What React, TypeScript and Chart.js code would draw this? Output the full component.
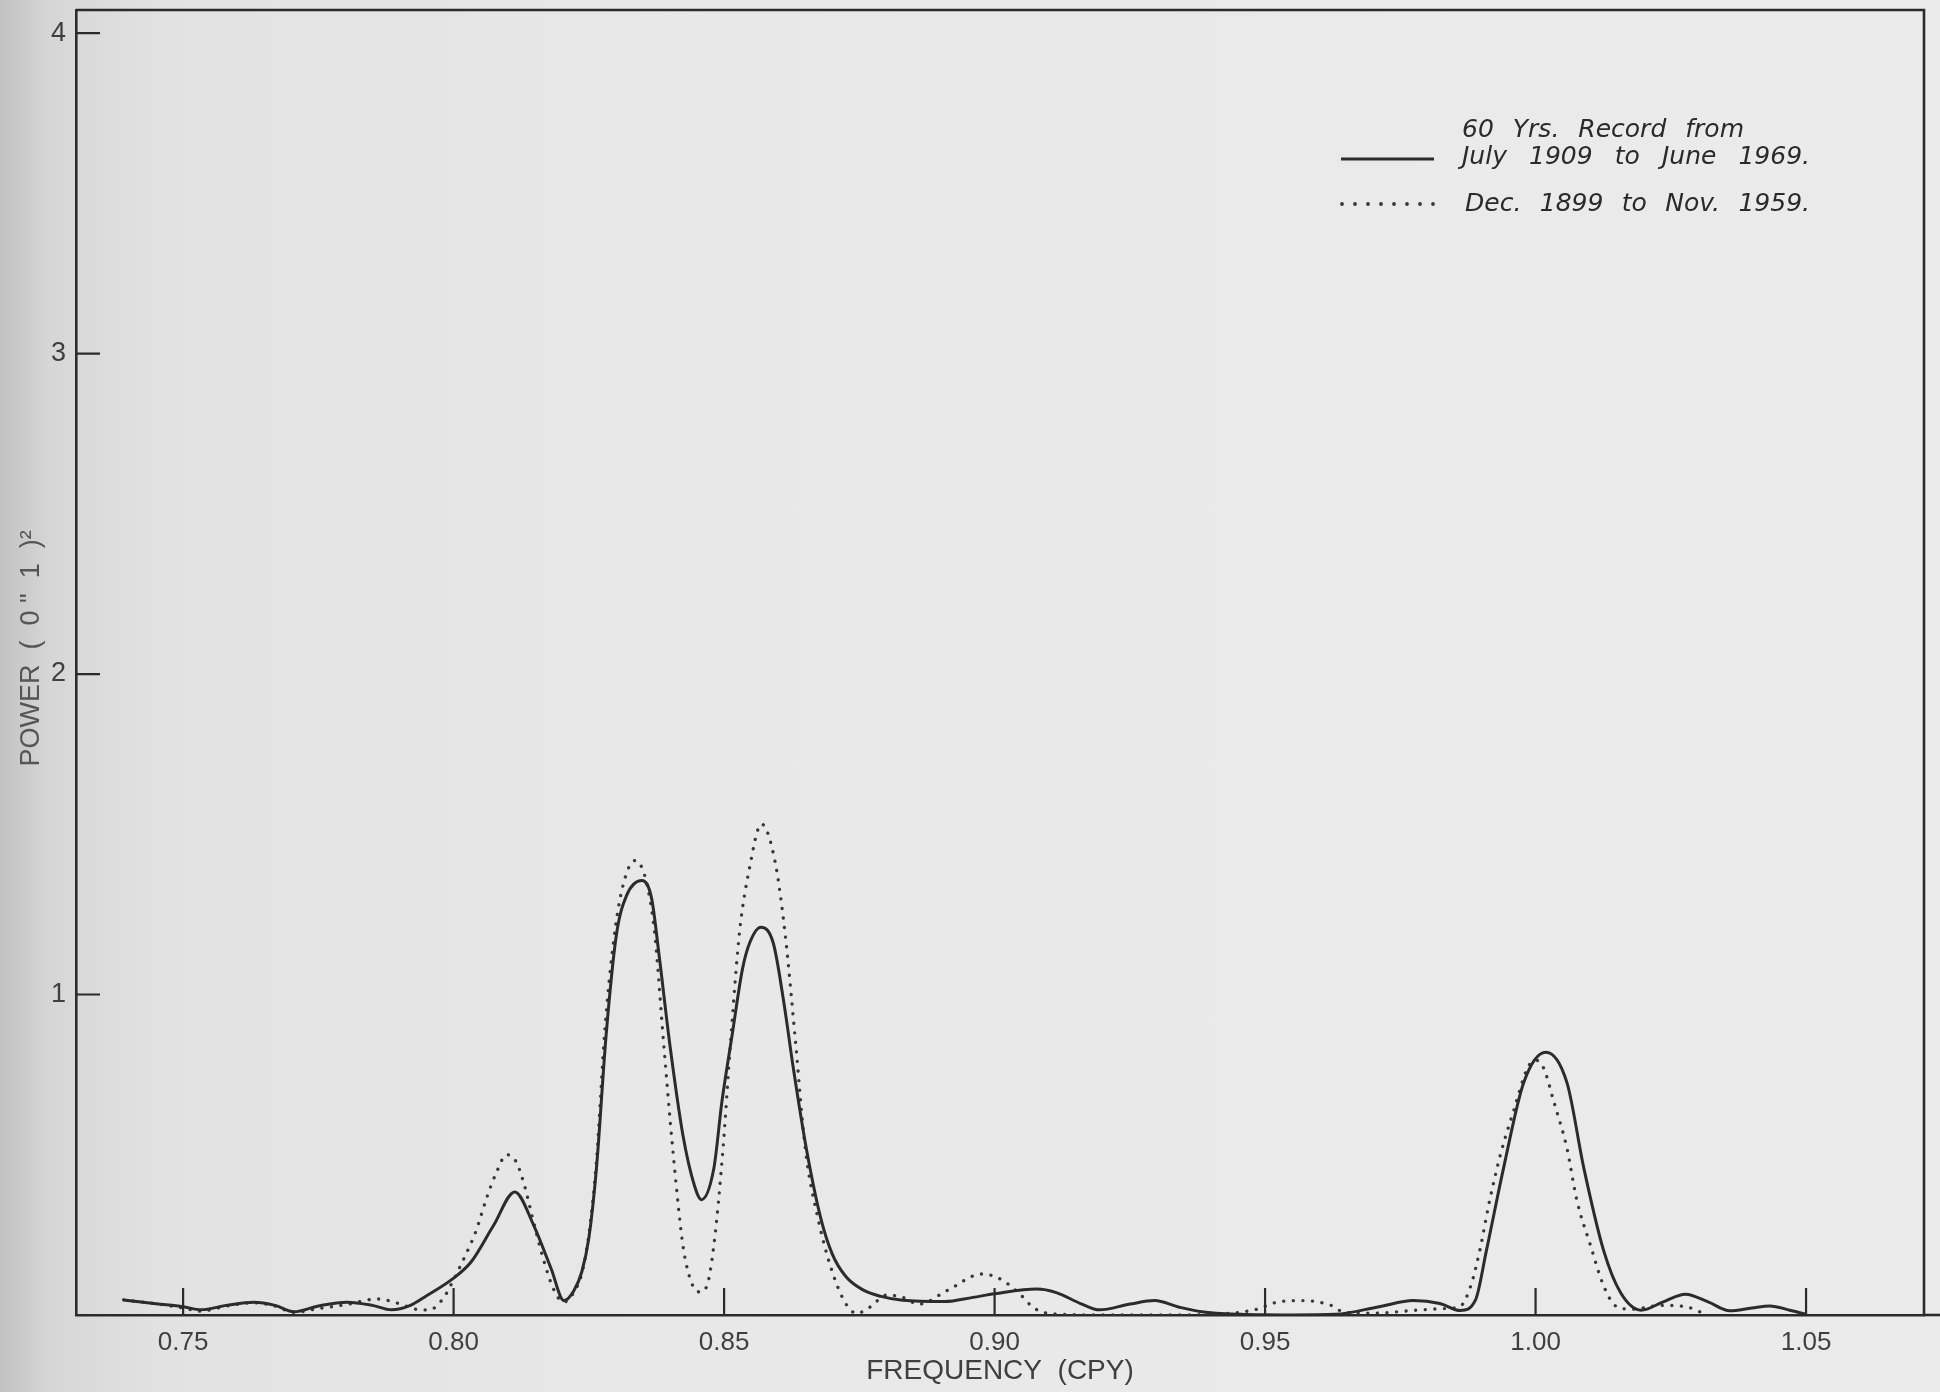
import React, { useEffect, useRef } from 'react';
import { Chart, registerables } from 'chart.js';

Chart.register(...registerables);

// Frequency axis ticks (cycles per year) and power axis ticks
const X_TICKS = [0.75, 0.8, 0.85, 0.9, 0.95, 1.0, 1.05];
const Y_TICKS = [1, 2, 3, 4];

// [frequency (cpy), power] — 60-year record, July 1909 to June 1969 (solid)
const RECORD_1909: [number, number][] = [
  [0.739, 0.047], [0.745, 0.035], [0.75, 0.026], [0.7533, 0.016], [0.758, 0.03],
  [0.7631, 0.04], [0.767, 0.03], [0.7705, 0.01], [0.775, 0.028], [0.7803, 0.04],
  [0.785, 0.03], [0.7885, 0.016], [0.792, 0.03], [0.795, 0.06], [0.8, 0.115],
  [0.8033, 0.167], [0.8074, 0.28], [0.8113, 0.384], [0.8148, 0.28], [0.818, 0.146],
  [0.8204, 0.045], [0.8222, 0.075], [0.8237, 0.135], [0.825, 0.24], [0.8264, 0.457],
  [0.8282, 0.875], [0.8301, 1.187], [0.832, 1.31], [0.8348, 1.356], [0.8366, 1.3],
  [0.838, 1.12], [0.84, 0.84], [0.8424, 0.56], [0.8445, 0.405], [0.8458, 0.36],
  [0.8481, 0.457], [0.8496, 0.666], [0.8515, 0.875], [0.8534, 1.08], [0.8547, 1.16],
  [0.8568, 1.21], [0.8591, 1.16], [0.861, 0.98], [0.8628, 0.77], [0.8653, 0.51],
  [0.8679, 0.3], [0.87, 0.19], [0.8725, 0.12], [0.8755, 0.08], [0.879, 0.058],
  [0.883, 0.046], [0.8908, 0.042], [0.896, 0.055], [0.9, 0.066], [0.9078, 0.081],
  [0.9114, 0.07], [0.916, 0.035], [0.9194, 0.016], [0.925, 0.034], [0.9296, 0.045],
  [0.934, 0.025], [0.9383, 0.01], [0.9455, 0.002], [0.955, 0.0], [0.963, 0.002],
  [0.9711, 0.026], [0.9774, 0.045], [0.9823, 0.036], [0.9861, 0.014], [0.9889, 0.047],
  [0.9909, 0.2], [0.9941, 0.46], [0.9978, 0.725], [1.0019, 0.82], [1.0058, 0.725],
  [1.0089, 0.46], [1.0126, 0.2], [1.0157, 0.07], [1.0195, 0.015], [1.0235, 0.04],
  [1.0277, 0.065], [1.032, 0.04], [1.0359, 0.013], [1.04, 0.022], [1.0433, 0.028],
  [1.047, 0.015], [1.05, 0.002],
];

// [frequency (cpy), power] — Dec. 1899 to Nov. 1959 (dotted)
const RECORD_1899: [number, number][] = [
  [0.739, 0.047], [0.745, 0.035], [0.75, 0.022], [0.7533, 0.012], [0.758, 0.028],
  [0.7631, 0.038], [0.767, 0.028], [0.7705, 0.008], [0.775, 0.02], [0.78, 0.032],
  [0.786, 0.05], [0.79, 0.035], [0.793, 0.018], [0.7955, 0.016], [0.798, 0.05],
  [0.8, 0.11], [0.802, 0.18], [0.8041, 0.26], [0.806, 0.36], [0.8078, 0.44],
  [0.8098, 0.5], [0.8115, 0.48], [0.813, 0.41], [0.8145, 0.31], [0.8165, 0.18],
  [0.8185, 0.08], [0.8203, 0.04], [0.8222, 0.07], [0.8237, 0.13], [0.825, 0.25],
  [0.8264, 0.48], [0.828, 0.9], [0.83, 1.22], [0.8318, 1.37], [0.8336, 1.418],
  [0.8355, 1.36], [0.8372, 1.186], [0.8388, 0.853], [0.8405, 0.52], [0.8424, 0.216],
  [0.844, 0.1], [0.8455, 0.072], [0.8468, 0.09], [0.8481, 0.216], [0.8498, 0.52],
  [0.8512, 0.853], [0.8528, 1.186], [0.8547, 1.395], [0.8569, 1.532], [0.8594, 1.416],
  [0.8613, 1.186], [0.8632, 0.853], [0.865, 0.52], [0.8675, 0.29], [0.8698, 0.145],
  [0.8723, 0.041], [0.8745, 0.005], [0.877, 0.025], [0.88, 0.062], [0.883, 0.055],
  [0.886, 0.034], [0.8912, 0.076], [0.8977, 0.128], [0.9013, 0.11], [0.905, 0.06],
  [0.9071, 0.024], [0.91, 0.005], [0.92, 0.0], [0.93, 0.0], [0.94, 0.002],
  [0.948, 0.016], [0.9528, 0.042], [0.9571, 0.045], [0.9622, 0.03], [0.9647, 0.008],
  [0.97, 0.006], [0.978, 0.015], [0.983, 0.02], [0.986, 0.026], [0.988, 0.09],
  [0.9898, 0.21], [0.9913, 0.34], [0.9935, 0.5], [0.996, 0.64], [0.9985, 0.77],
  [1.0, 0.795], [1.0015, 0.77], [1.0033, 0.67], [1.0058, 0.52], [1.0076, 0.36],
  [1.0101, 0.22], [1.0126, 0.09], [1.015, 0.026], [1.018, 0.018], [1.023, 0.03],
  [1.028, 0.025], [1.031, 0.005],
];

const LEGEND_1909 = ['60 Yrs. Record from', 'July 1909 to June 1969.'];
const LEGEND_1899 = ['Dec. 1899 to Nov. 1959.'];
const X_TITLE = 'FREQUENCY  (CPY)';
const Y_TITLE = 'POWER  (  0 "  1  )²';

const INK = '#2b2b2b';
const DOT_INK = '#383838';
const TEXT_INK = '#3f3f3f';
const SANS = '"Liberation Sans", Arial, sans-serif';

// Box outline, x axis run-out, inward tick marks and the power-axis title
const framePlugin = {
  id: 'frame',
  afterDraw(chart: any) {
    const { ctx, chartArea, scales } = chart;
    const { left, top, right, bottom } = chartArea;
    ctx.save();
    ctx.strokeStyle = INK;
    ctx.lineCap = 'butt';
    ctx.lineWidth = 2.6;
    ctx.beginPath();
    ctx.moveTo(left, top);
    ctx.lineTo(right, top);
    ctx.lineTo(right, bottom);
    ctx.stroke();
    ctx.beginPath();
    ctx.moveTo(right, bottom);
    ctx.lineTo(chart.width, bottom);
    ctx.stroke();
    ctx.lineWidth = 2.2;
    ctx.beginPath();
    scales.x.ticks.forEach((t: any) => {
      const px = scales.x.getPixelForValue(t.value);
      ctx.moveTo(px, bottom);
      ctx.lineTo(px, bottom - 27);
    });
    scales.y.ticks.forEach((t: any) => {
      const py = scales.y.getPixelForValue(t.value);
      ctx.moveTo(left, py);
      ctx.lineTo(left + 24, py);
    });
    ctx.stroke();

    // rotated title for the power axis
    ctx.translate(32, scales.y.getPixelForValue(2.08));
    ctx.rotate(-Math.PI / 2);
    ctx.font = `27px ${SANS}`;
    ctx.fillStyle = '#555555';
    ctx.textAlign = 'center';
    ctx.textBaseline = 'middle';
    ctx.fillText(Y_TITLE, 0, 0);
    ctx.restore();
  },
};

// Legend block in the upper right, words spread across each line
const legendPlugin = {
  id: 'recordLegend',
  afterDraw(chart: any) {
    const { ctx } = chart;
    const right = chart.chartArea.right;
    const textLeft = right - 462;
    const textRight = right - 114;
    const sampleLeft = right - 583;
    const sampleRight = right - 490;
    const lines = [
      { text: LEGEND_1909[0], x0: textLeft, x1: right - 180, y: 130 },
      { text: LEGEND_1909[1], x0: textLeft, x1: textRight, y: 157 },
      { text: LEGEND_1899[0], x0: textLeft + 3, x1: textRight, y: 204 },
    ];
    ctx.save();
    ctx.font = 'italic 25px "DejaVu Sans", sans-serif';
    ctx.fillStyle = '#2a2a2a';
    ctx.textBaseline = 'middle';
    ctx.textAlign = 'left';
    lines.forEach((ln) => {
      const words = ln.text.split(' ');
      const widths = words.map((w) => ctx.measureText(w).width);
      const total = widths.reduce((a, b) => a + b, 0);
      const gap = words.length > 1 ? (ln.x1 - ln.x0 - total) / (words.length - 1) : 0;
      let x = ln.x0;
      words.forEach((w, i) => {
        ctx.fillText(w, x, ln.y);
        x += widths[i] + gap;
      });
    });
    ctx.strokeStyle = INK;
    ctx.lineWidth = 3;
    ctx.beginPath();
    ctx.moveTo(sampleLeft, 159);
    ctx.lineTo(sampleRight, 159);
    ctx.stroke();
    ctx.fillStyle = DOT_INK;
    for (let i = 0; i < 8; i++) {
      const cx = sampleLeft + 1 + i * ((sampleRight - sampleLeft - 2) / 7);
      ctx.beginPath();
      ctx.arc(cx, 204, 1.9, 0, Math.PI * 2);
      ctx.fill();
    }
    ctx.restore();
  },
};

export default function App() {
  const canvasRef = useRef<HTMLCanvasElement | null>(null);

  useEffect(() => {
    const canvas = canvasRef.current;
    if (!canvas) return;
    const chart = new Chart(canvas, {
      type: 'line',
      data: {
        datasets: [
          {
            label: LEGEND_1909.join(' '),
            data: RECORD_1909.map(([x, y]) => ({ x, y })),
            borderColor: INK,
            borderWidth: 3,
            pointRadius: 0,
            fill: false,
            cubicInterpolationMode: 'monotone',
          },
          {
            label: LEGEND_1899[0],
            data: RECORD_1899.map(([x, y]) => ({ x, y })),
            borderColor: DOT_INK,
            borderWidth: 3.3,
            borderDash: [0.1, 9.5],
            borderCapStyle: 'round',
            pointRadius: 0,
            fill: false,
            cubicInterpolationMode: 'monotone',
          },
        ],
      },
      options: {
        responsive: false,
        animation: false,
        devicePixelRatio: 1,
        layout: { autoPadding: false, padding: { top: 10, right: 16, left: 0, bottom: 0 } },
        plugins: {
          legend: { display: false },
          tooltip: { enabled: false },
        },
        scales: {
          x: {
            type: 'linear',
            min: 0.7302,
            max: 1.0718,
            afterBuildTicks: (s: any) => {
              s.ticks = X_TICKS.map((v) => ({ value: v }));
            },
            afterFit: (s: any) => {
              s.height = 77;
              s.paddingLeft = 0;
              s.paddingRight = 0;
            },
            grid: { display: false, drawTicks: false, tickLength: 0 },
            border: { display: true, color: INK, width: 2.6 },
            ticks: {
              padding: 12,
              color: TEXT_INK,
              font: { family: SANS, size: 26 },
              maxRotation: 0,
              autoSkip: false,
              callback: (v: any) => Number(v).toFixed(2),
            },
            title: {
              display: true,
              text: X_TITLE,
              color: TEXT_INK,
              font: { family: SANS, size: 28 },
              padding: { top: 0, bottom: 4 },
            },
          },
          y: {
            type: 'linear',
            min: 0,
            max: 4.072,
            afterBuildTicks: (s: any) => {
              s.ticks = Y_TICKS.map((v) => ({ value: v }));
            },
            afterFit: (s: any) => {
              s.width = 76;
              s.paddingTop = 0;
              s.paddingBottom = 0;
            },
            grid: { display: false, drawTicks: false, tickLength: 0 },
            border: { display: true, color: INK, width: 2.6 },
            ticks: {
              padding: 10,
              color: TEXT_INK,
              font: { family: SANS, size: 27 },
              callback: (v: any) => String(v),
            },
          },
        },
      },
      plugins: [framePlugin, legendPlugin],
    } as any);
    return () => chart.destroy();
  }, []);

  return (
    <div
      style={{
        position: 'fixed',
        left: 0,
        top: 0,
        width: 1940,
        height: 1392,
        background:
          'linear-gradient(to right, #c2c2c2 0px, #d6d6d6 50px, #e2e2e2 160px, #e8e8e8 700px, #ebebeb 100%)',
      }}
    >
      <canvas ref={canvasRef} width={1940} height={1392} style={{ display: 'block' }} />
    </div>
  );
}
